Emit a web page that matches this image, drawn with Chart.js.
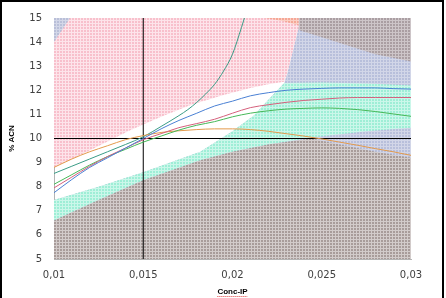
<!DOCTYPE html>
<html>
<head>
<meta charset="utf-8">
<script src="https://cdn.jsdelivr.net/npm/chart.js@4/dist/chart.umd.min.js"></script>
<style>
  html, body { margin: 0; padding: 0; background: #fff; }
  #wrap { position: relative; width: 446px; height: 298px; }
  #frame { position: absolute; left: 0; top: 0; width: 444px; height: 300px; box-sizing: border-box;
           border: 2px solid #000; pointer-events: none; }
</style>
</head>
<body>
<div id="wrap">
  <canvas id="designSpace" width="446" height="298"></canvas>
  <div id="frame"></div>
</div>
<script>
// x values (Conc-IP) shared by the response curves
const concIP = [0.010, 0.011, 0.012, 0.013, 0.014, 0.015, 0.016, 0.017, 0.018, 0.019, 0.020,
                0.021, 0.022, 0.023, 0.024, 0.025, 0.026, 0.027, 0.028, 0.029, 0.030];

// % ACN curves
const blueCurve   = [7.75, 8.3, 8.8, 9.2, 9.6, 10.0, 10.4, 10.75, 11.05, 11.35, 11.55,
                     11.77, 11.9, 12.0, 12.05, 12.08, 12.1, 12.1, 12.1, 12.07, 12.05];
const redCurve    = [7.95, 8.4, 8.85, 9.25, 9.6, 9.95, 10.2, 10.45, 10.62, 10.8, 11.05,
                     11.28, 11.4, 11.5, 11.58, 11.63, 11.68, 11.7, 11.7, 11.7, 11.7];
const greenCurve  = [8.1, 8.5, 8.9, 9.25, 9.55, 9.85, 10.1, 10.35, 10.55, 10.7, 10.9,
                     11.05, 11.15, 11.22, 11.25, 11.27, 11.25, 11.2, 11.12, 11.02, 10.92];
const orangeCurve = [8.8, 9.15, 9.45, 9.7, 9.95, 10.12, 10.25, 10.32, 10.37, 10.4, 10.4,
                     10.37, 10.3, 10.2, 10.1, 9.98, 9.85, 9.72, 9.58, 9.45, 9.3];
// the steep curve leaves the top of the plot, so it has its own x values
const tealX = [0.010, 0.011, 0.012, 0.013, 0.014, 0.015, 0.016, 0.017, 0.0175, 0.018, 0.0185, 0.019, 0.0195, 0.020, 0.0205, 0.021];
const tealY = [8.55, 8.85, 9.15, 9.45, 9.75, 10.07, 10.5, 10.95, 11.2, 11.5, 11.85, 12.25, 12.8, 13.5, 14.6, 15.8];

// shaded zones (x, y outlines)
const pinkZone   = [[0.010, 15], [0.0237, 15], [0.0237, 14.6], [0.0235, 14.0], [0.0233, 13.4],
                    [0.0231, 12.8], [0.0229, 12.35], [0.022, 12.25], [0.021, 12.1], [0.0195, 11.8],
                    [0.0177, 11.4], [0.016, 10.9], [0.0143, 10.35], [0.012, 9.5], [0.010, 8.8]];
const blueZone   = [[0.010, 5], [0.010, 7.45], [0.0125, 8.0], [0.015, 8.6], [0.0182, 9.45], [0.020, 10.3],
                    [0.0212, 10.95], [0.022, 11.6], [0.0229, 12.3], [0.0231, 12.8], [0.0233, 13.4],
                    [0.0235, 14.0], [0.0237, 14.6], [0.0237, 15], [0.030, 15], [0.030, 5]];
const greenZone  = [[0.010, 7.45], [0.0125, 8.0], [0.015, 8.6], [0.0182, 9.45], [0.020, 10.3],
                    [0.0212, 10.95], [0.022, 11.6], [0.0229, 12.3], [0.025, 12.32], [0.0275, 12.28],
                    [0.030, 12.2], [0.030, 10.45], [0.0275, 10.3], [0.0244, 10.04], [0.022, 9.75],
                    [0.020, 9.45], [0.0182, 9.1], [0.015, 8.27], [0.0125, 7.45], [0.010, 6.6]];
const grayLowZone = [[0.010, 5], [0.010, 6.6], [0.0125, 7.45], [0.015, 8.27], [0.0182, 9.1], [0.020, 9.45],
                     [0.022, 9.75], [0.0244, 10.0], [0.026, 9.75], [0.028, 9.45], [0.030, 9.2], [0.030, 5]];
const grayTopZone = [[0.0237, 15], [0.0237, 14.5], [0.025, 14.2], [0.0265, 13.85], [0.028, 13.5],
                     [0.030, 13.2], [0.030, 15]];
const salmonZone  = [[0.0218, 15], [0.0237, 15], [0.0237, 14.7], [0.0228, 14.88]];
const cornerZone  = [[0.010, 15], [0.0109, 15], [0.010, 14.0]];

// crosshair
const crossX = 0.015;
const crossY = 10;

const xTicks = [0.01, 0.015, 0.02, 0.025, 0.03];
const yMin = 5, yMax = 15;

function hatch(base, line) {
  const c = document.createElement('canvas');
  c.width = 3; c.height = 3;
  const g = c.getContext('2d');
  g.fillStyle = base; g.fillRect(0, 0, 3, 3);
  g.fillStyle = line; g.fillRect(2, 0, 1, 3); g.fillRect(0, 2, 3, 1);
  return g.createPattern(c, 'repeat');
}

const pts = (xs, ys) => xs.map((x, i) => ({x: x, y: ys[i]}));
const poly = arr => arr.map(p => ({x: p[0], y: p[1]}));

function zone(arr, fillStyle, order) {
  return {data: poly(arr), showLine: true, fill: 'shape', backgroundColor: fillStyle,
          borderWidth: 0, pointRadius: 0, order: order, tension: 0};
}
function curve(ys, color, xs) {
  return {data: pts(xs || concIP, ys), showLine: true, fill: false, borderColor: color,
          borderWidth: 1, pointRadius: 0, order: 1, cubicInterpolationMode: 'monotone'};
}

// red spell-check squiggle under the x title
const squiggle = {
  id: 'squiggle',
  afterDraw(chart) {
    const s = chart.scales.x, ctx = chart.ctx;
    ctx.save();
    ctx.font = 'bold 8px "Liberation Sans"';
    const w = ctx.measureText(s.options.title.text).width;
    const cx = (s.left + s.right) / 2, y = s.bottom - 1.5;
    ctx.strokeStyle = '#e04040';
    ctx.lineWidth = 1;
    ctx.setLineDash([1, 1]);
    ctx.beginPath(); ctx.moveTo(cx - w / 2, y); ctx.lineTo(cx + w / 2, y); ctx.stroke();
    ctx.restore();
  }
};

Chart.defaults.font.family = 'DejaVu Sans';
Chart.defaults.color = '#404040';

new Chart(document.getElementById('designSpace'), {
  type: 'scatter',
  data: {
    datasets: [
      curve(blueCurve, '#4a80d4'),
      curve(redCurve, '#d4607c'),
      curve(greenCurve, '#46b858'),
      curve(orangeCurve, '#e39a4c'),
      curve(tealY, '#3a9c86', tealX),
      {data: [{x: crossX, y: yMin}, {x: crossX, y: yMax}], showLine: true, borderColor: '#000',
       borderWidth: 1, pointRadius: 0, order: 2},
      {data: [{x: xTicks[0], y: crossY}, {x: xTicks[xTicks.length - 1], y: crossY}], showLine: true,
       borderColor: '#000', borderWidth: 1, pointRadius: 0, order: 2},
      zone(cornerZone, hatch('#b9bfd8', '#d3d7e8'), 3),
      zone(salmonZone, hatch('#f5a796', '#fbcfc4'), 3),
      zone(pinkZone, hatch('#f8c0cc', '#fde4ea'), 4),
      zone(grayTopZone, hatch('#aa9ea2', '#cdc5c8'), 5),
      zone(grayLowZone, hatch('#a89c9a', '#d2cbca'), 6),
      zone(greenZone, hatch('#9eeed6', '#cbf7ea'), 7),
      zone(blueZone, hatch('#b8bfdb', '#d2d6e8'), 8)
    ]
  },
  options: {
    responsive: false,
    animation: false,
    layout: {padding: {top: 15, right: 35, left: 0, bottom: 0}},
    plugins: {legend: {display: false}, tooltip: {enabled: false}},
    scales: {
      x: {
        type: 'linear', min: xTicks[0], max: xTicks[xTicks.length - 1],
        afterBuildTicks: s => { s.ticks = xTicks.map(v => ({value: v})); },
        afterFit: s => { s.height = 39; },
        grid: {display: false, drawTicks: false},
        border: {display: true, color: '#b4b4b4'},
        ticks: {padding: 10, font: {size: 10},
                callback: v => String(Math.round(v * 1000) / 1000).replace('.', ',')},
        title: {display: true, text: 'Conc-IP', color: '#000', padding: {top: 0, bottom: 1},
                font: {family: 'Liberation Sans', size: 8, weight: 'bold'}}
      },
      y: {
        min: yMin, max: yMax,
        afterFit: s => { s.width = 54; },
        grid: {display: false, drawTicks: false},
        border: {display: true, color: '#b4b4b4'},
        ticks: {stepSize: 1, padding: 12, font: {size: 10}},
        title: {display: true, text: '% ACN', color: '#000', padding: {top: 7, bottom: 0},
                font: {family: 'Liberation Sans', size: 8, weight: 'bold'}}
      }
    }
  },
  plugins: [squiggle]
});
</script>
</body>
</html>
